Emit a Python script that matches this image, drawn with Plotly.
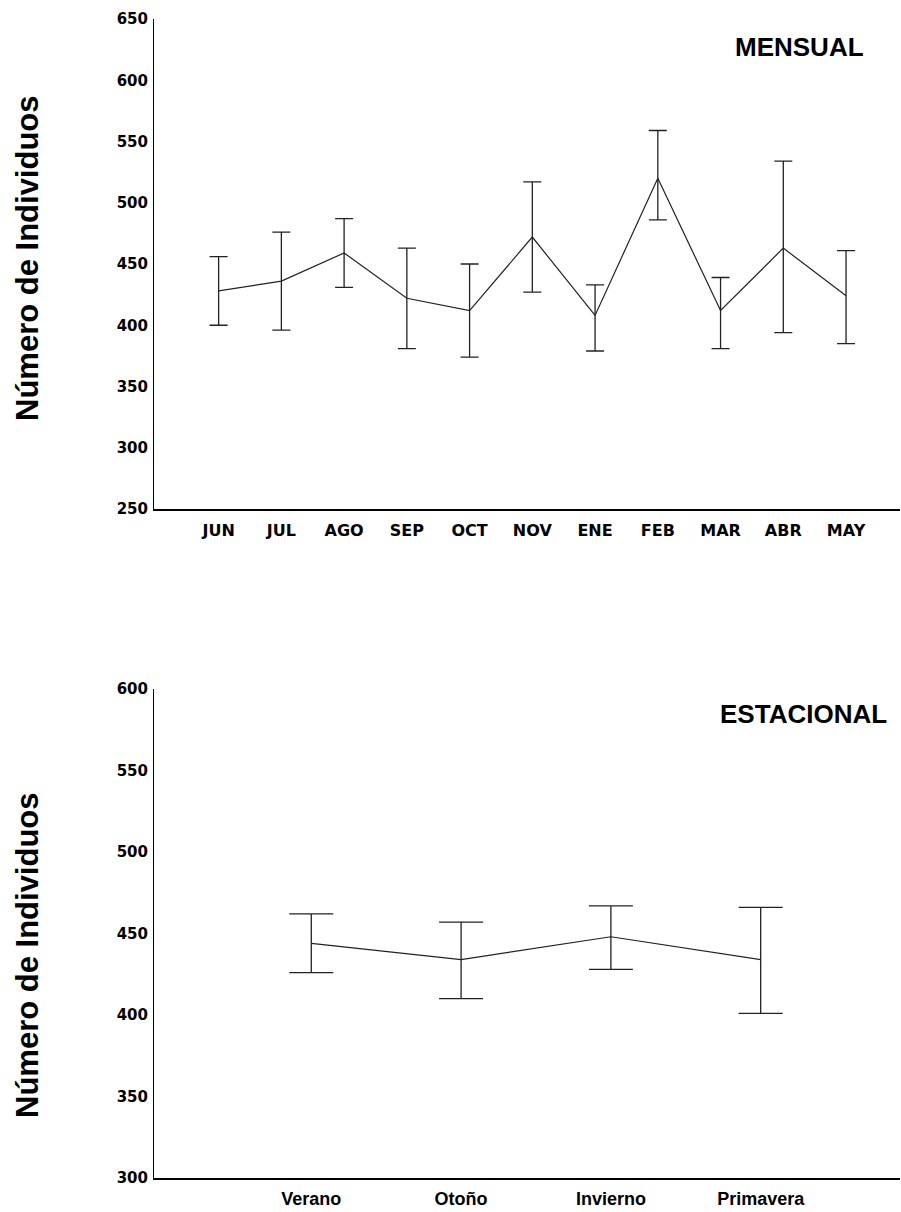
import plotly.graph_objects as go
from plotly.subplots import make_subplots

# ---- Data ----
months = ["JUN", "JUL", "AGO", "SEP", "OCT", "NOV", "ENE", "FEB", "MAR", "ABR", "MAY"]
month_mean = [428, 436, 459, 422, 412, 472, 408, 520, 412, 463, 424]
month_upper = [456, 476, 487, 463, 450, 517, 433, 559, 439, 534, 461]
month_lower = [400, 396, 431, 381, 374, 427, 379, 486, 381, 394, 385]

seasons = ["Verano", "Otoño", "Invierno", "Primavera"]
season_mean = [444, 434, 448, 434]
season_upper = [462, 457, 467, 466]
season_lower = [426, 410, 428, 401]

top_ticks = [250, 300, 350, 400, 450, 500, 550, 600, 650]
bottom_ticks = [300, 350, 400, 450, 500, 550, 600]

# ---- Figure ----
W, H = 901, 1212
ML, MR, MT, MB = 154, 1, 19, 34
plot_h = H - MT - MB
top_bottom_px = 509
bot_top_px = 689

fig = make_subplots(rows=2, cols=1)

line_col = "#222222"

fig.add_trace(go.Scatter(
    x=months, y=month_mean, mode="lines",
    line=dict(color=line_col, width=1.2),
    error_y=dict(type="data", symmetric=False,
                 array=[u - m for u, m in zip(month_upper, month_mean)],
                 arrayminus=[m - l for m, l in zip(month_mean, month_lower)],
                 color=line_col, thickness=1.3, width=9),
    showlegend=False, hoverinfo="skip"), row=1, col=1)

fig.add_trace(go.Scatter(
    x=seasons, y=season_mean, mode="lines",
    line=dict(color=line_col, width=1.2),
    error_y=dict(type="data", symmetric=False,
                 array=[u - m for u, m in zip(season_upper, season_mean)],
                 arrayminus=[m - l for m, l in zip(season_mean, season_lower)],
                 color=line_col, thickness=1.3, width=22),
    showlegend=False, hoverinfo="skip"), row=2, col=1)

dom_top = [(H - MB - top_bottom_px) / plot_h, 1.0]
dom_bot = [0.0, (H - MB - bot_top_px) / plot_h]

tick_font = dict(family="DejaVu Sans", size=15, color="black", weight="bold")

fig.update_layout(
    width=W, height=H,
    margin=dict(l=ML, r=MR, t=MT, b=MB),
    plot_bgcolor="white", paper_bgcolor="white",
    xaxis=dict(domain=[0, 1], type="category", categoryorder="array",
               categoryarray=months, range=[-1.03, 10.86],
               showline=True, linecolor="black", linewidth=1.5,
               showgrid=False, zeroline=False, ticks="",
               tickfont=dict(family="DejaVu Sans", size=16, color="black", weight="bold"),
               ticklabelstandoff=6),
    yaxis=dict(domain=dom_top, range=[250, 650], tickvals=top_ticks,
               showline=True, linecolor="black", linewidth=1,
               showgrid=False, zeroline=False, ticks="",
               tickfont=tick_font, ticklabelstandoff=2),
    xaxis2=dict(domain=[0, 1], type="category", categoryorder="array",
                categoryarray=seasons, range=[-1.05, 3.93],
                showline=True, linecolor="black", linewidth=1.5,
                showgrid=False, zeroline=False, ticks="",
                tickfont=dict(family="Liberation Sans", size=18, color="black", weight="bold"),
                ticklabelstandoff=4),
    yaxis2=dict(domain=dom_bot, range=[300, 600], tickvals=bottom_ticks,
                showline=True, linecolor="black", linewidth=1,
                showgrid=False, zeroline=False, ticks="",
                tickfont=tick_font, ticklabelstandoff=2),
)

def py(px):
    return (H - MB - px) / plot_h

def px_x(px):
    return (px - ML) / (W - ML - MR)

title_font = dict(family="Liberation Sans", size=31, color="black", weight="bold")
panel_font = dict(family="Liberation Sans", size=26, color="black", weight="bold")

fig.add_annotation(text="Número de Individuos", textangle=-90,
                   xref="paper", yref="paper", x=px_x(27), y=py(258),
                   xanchor="center", yanchor="middle", showarrow=False, font=title_font)
fig.add_annotation(text="Número de Individuos", textangle=-90,
                   xref="paper", yref="paper", x=px_x(27), y=py(955),
                   xanchor="center", yanchor="middle", showarrow=False, font=title_font)
fig.add_annotation(text="MENSUAL", xref="paper", yref="paper",
                   x=px_x(866), y=py(47), xanchor="right", yanchor="middle",
                   showarrow=False, font=panel_font)
fig.add_annotation(text="ESTACIONAL", xref="paper", yref="paper",
                   x=px_x(889), y=py(714), xanchor="right", yanchor="middle",
                   showarrow=False, font=panel_font)

fig.write_html("out.html")
